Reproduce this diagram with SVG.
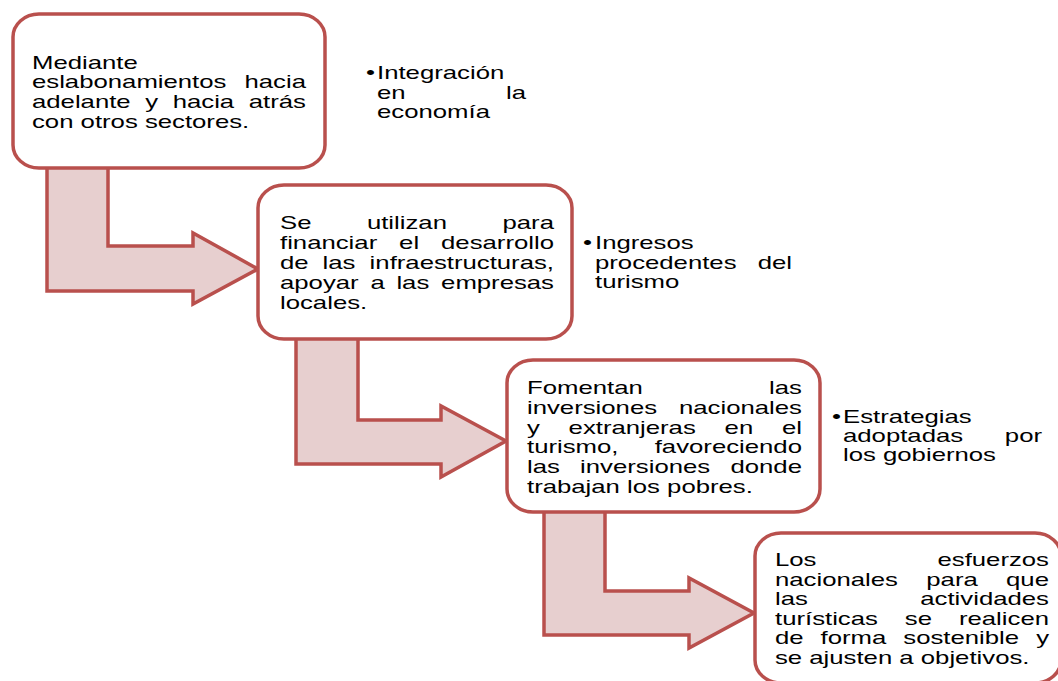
<svg xmlns="http://www.w3.org/2000/svg" width="1058" height="681" viewBox="0 0 1058 681">
<style>
.box{fill:#ffffff;stroke:#b9504d;stroke-width:3.5}
.arr{fill:#e7cfcf;stroke:#b9504d;stroke-width:3.5;stroke-linejoin:miter}
.t{font-family:"Liberation Sans",Arial,sans-serif;font-size:18px;fill:#000000}
</style>
<rect width="1058" height="681" fill="#ffffff"/>
<g id="connectors">
<path class="arr" d="M47,160 L108,160 L108,246 L193,246 L193,233 L258,269 L193,304 L193,291 L47,291 Z"/>
<path class="arr" d="M296,332 L358,332 L358,420 L441,420 L441,406 L506,441 L441,477 L441,464 L296,464 Z"/>
<path class="arr" d="M544,505 L605,505 L605,591 L689,591 L689,578 L754,613 L689,648 L689,635 L544,635 Z"/>
</g>
<g id="node1">
<rect class="box" x="13" y="14" width="312" height="154" rx="26" ry="23"/>
<text class="t" transform="translate(32,68.5) scale(1.43,1)">Mediante</text>
<text class="t" transform="translate(32,88.2) scale(1.43,1)"><tspan x="0">eslabonamientos</tspan><tspan x="191.6" text-anchor="end">hacia</tspan></text>
<text class="t" transform="translate(32,108) scale(1.43,1)"><tspan x="0">adelante</tspan><tspan x="79.22">y</tspan><tspan x="98.39">hacia</tspan><tspan x="191.6" text-anchor="end">atrás</tspan></text>
<text class="t" transform="translate(32,127.7) scale(1.43,1)">con otros sectores.</text>
</g>
<g id="bullet1">
<text class="t" transform="translate(366,79) scale(1.43,1)">•</text>
<text class="t" transform="translate(377,79) scale(1.43,1)">Integración</text>
<text class="t" transform="translate(377,98.5) scale(1.43,1)"><tspan x="0">en</tspan><tspan x="104.2" text-anchor="end">la</tspan></text>
<text class="t" transform="translate(377,118) scale(1.43,1)">economía</text>
</g>
<g id="node2">
<rect class="box" x="258" y="185" width="314" height="154" rx="26" ry="23"/>
<text class="t" transform="translate(280,229) scale(1.43,1)"><tspan x="0">Se</tspan><tspan x="60.79">utilizan</tspan><tspan x="191.6" text-anchor="end">para</tspan></text>
<text class="t" transform="translate(280,249) scale(1.43,1)"><tspan x="0">financiar</tspan><tspan x="83.3">el</tspan><tspan x="191.6" text-anchor="end">desarrollo</tspan></text>
<text class="t" transform="translate(280,269) scale(1.43,1)"><tspan x="0">de</tspan><tspan x="29.79">las</tspan><tspan x="191.6" text-anchor="end">infraestructuras,</tspan></text>
<text class="t" transform="translate(280,289) scale(1.43,1)"><tspan x="0">apoyar</tspan><tspan x="63.21">a</tspan><tspan x="81.4">las</tspan><tspan x="191.6" text-anchor="end">empresas</tspan></text>
<text class="t" transform="translate(280,309) scale(1.43,1)">locales.</text>
</g>
<g id="bullet2">
<text class="t" transform="translate(583,249) scale(1.43,1)">•</text>
<text class="t" transform="translate(595,249) scale(1.43,1)">Ingresos</text>
<text class="t" transform="translate(595,268.5) scale(1.43,1)"><tspan x="0">procedentes</tspan><tspan x="137.8" text-anchor="end">del</tspan></text>
<text class="t" transform="translate(595,288) scale(1.43,1)">turismo</text>
</g>
<g id="node3">
<rect class="box" x="507" y="360" width="313" height="152" rx="26" ry="23"/>
<text class="t" transform="translate(527,394) scale(1.43,1)"><tspan x="0">Fomentan</tspan><tspan x="192.3" text-anchor="end">las</tspan></text>
<text class="t" transform="translate(527,413.8) scale(1.43,1)"><tspan x="0">inversiones</tspan><tspan x="192.3" text-anchor="end">nacionales</tspan></text>
<text class="t" transform="translate(527,433.6) scale(1.43,1)"><tspan x="0">y</tspan><tspan x="29.08">extranjeras</tspan><tspan x="138.19">en</tspan><tspan x="192.3" text-anchor="end">el</tspan></text>
<text class="t" transform="translate(527,453.4) scale(1.43,1)"><tspan x="0">turismo,</tspan><tspan x="192.3" text-anchor="end">favoreciendo</tspan></text>
<text class="t" transform="translate(527,473.2) scale(1.43,1)"><tspan x="0">las</tspan><tspan x="37.12">inversiones</tspan><tspan x="192.3" text-anchor="end">donde</tspan></text>
<text class="t" transform="translate(527,493) scale(1.43,1)">trabajan los pobres.</text>
</g>
<g id="bullet3">
<text class="t" transform="translate(832,423) scale(1.43,1)">•</text>
<text class="t" transform="translate(843,423) scale(1.43,1)">Estrategias</text>
<text class="t" transform="translate(843,442) scale(1.43,1)"><tspan x="0">adoptadas</tspan><tspan x="139.2" text-anchor="end">por</tspan></text>
<text class="t" transform="translate(843,461) scale(1.43,1)">los gobiernos</text>
</g>
<g id="node4">
<rect class="box" x="755" y="533" width="306" height="150" rx="26" ry="23"/>
<text class="t" transform="translate(775,566) scale(1.43,1)"><tspan x="0">Los</tspan><tspan x="191.6" text-anchor="end">esfuerzos</tspan></text>
<text class="t" transform="translate(775,585.6) scale(1.43,1)"><tspan x="0">nacionales</tspan><tspan x="105.8">para</tspan><tspan x="191.6" text-anchor="end">que</tspan></text>
<text class="t" transform="translate(775,605.2) scale(1.43,1)"><tspan x="0">las</tspan><tspan x="191.6" text-anchor="end">actividades</tspan></text>
<text class="t" transform="translate(775,624.8) scale(1.43,1)"><tspan x="0">turísticas</tspan><tspan x="90.8">se</tspan><tspan x="191.6" text-anchor="end">realicen</tspan></text>
<text class="t" transform="translate(775,644.4) scale(1.43,1)"><tspan x="0">de</tspan><tspan x="31.86">forma</tspan><tspan x="89.71">sostenible</tspan><tspan x="191.6" text-anchor="end">y</tspan></text>
<text class="t" transform="translate(775,664) scale(1.43,1)">se ajusten a objetivos.</text>
</g>
</svg>
